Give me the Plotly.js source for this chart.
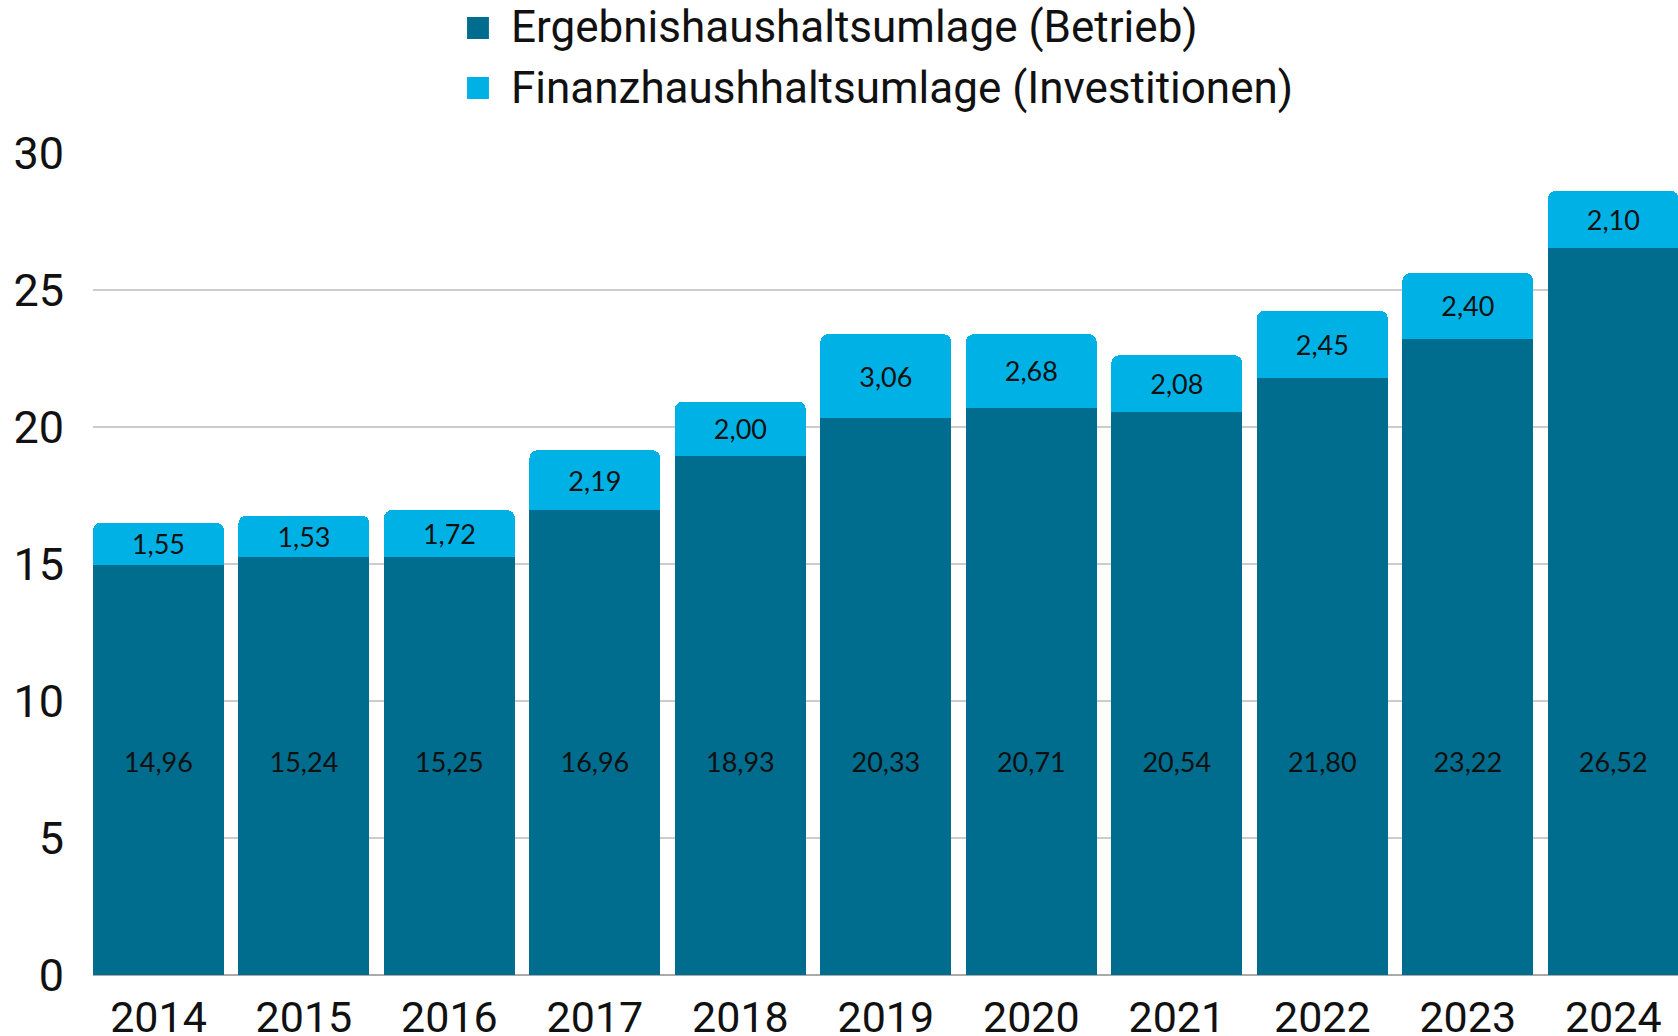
<!DOCTYPE html>
<html>
<head>
<meta charset="utf-8">
<script src="https://cdn.plot.ly/plotly-3.0.1.min.js"></script>
<style>html,body{margin:0;padding:0;background:#fff;}#chart{width:1678px;height:1036px;}</style>
</head>
<body>
<div id="chart"></div>
<script>
const years = ["2014","2015","2016","2017","2018","2019","2020","2021","2022","2023","2024"];
const betrieb = [14.96, 15.24, 15.25, 16.96, 18.93, 20.33, 20.71, 20.54, 21.80, 23.22, 26.52];
const investitionen = [1.55, 1.53, 1.72, 2.19, 2.00, 3.06, 2.68, 2.08, 2.45, 2.40, 2.10];
const seriesNames = ["Ergebnishaushaltsumlage (Betrieb)", "Finanzhaushhaltsumlage (Investitionen)"];
const yTicks = [0, 5, 10, 15, 20, 25, 30];

const darkColor = "#006c8e";
const lightColor = "#00b1e5";
const textColor = "#111111";
const betriebLabelY = 7.64;

const traces = [
  {
    type: "bar", x: years, y: betrieb, name: seriesNames[0],
    marker: {color: darkColor, line: {width: 0}},
    textposition: "none", hoverinfo: "skip", showlegend: false
  },
  {
    type: "bar", x: years, y: investitionen, name: seriesNames[1],
    marker: {color: lightColor, line: {width: 0}},
    texttemplate: "%{y:.2f}", textposition: "inside", insidetextanchor: "middle",
    textangle: 0, constraintext: "none",
    insidetextfont: {family: "Lato", size: 27, color: textColor},
    hoverinfo: "skip", showlegend: false
  },
  {
    type: "scatter", mode: "text", x: years, y: years.map(() => betriebLabelY),
    customdata: betrieb, texttemplate: "%{customdata:.2f}", textposition: "middle center",
    textfont: {family: "Lato", size: 27, color: textColor},
    hoverinfo: "skip", showlegend: false
  }
];

const legendX0 = 0.236, legendX1 = 0.2498, legendTextX = 0.2625;
const layout = {
  width: 1678, height: 1036,
  margin: {l: 93, r: 0, t: 153, b: 61},
  paper_bgcolor: "#ffffff", plot_bgcolor: "#ffffff",
  barmode: "stack", bargap: 0.1, barcornerradius: 8,
  separators: ",.",
  showlegend: false,
  font: {family: "Roboto", color: textColor},
  xaxis: {
    type: "category", range: [-0.45, 10.445],
    showgrid: false, zeroline: false, showline: false, ticks: "",
    tickfont: {family: "Roboto", size: 43, color: textColor},
    ticklabelstandoff: 13, fixedrange: true
  },
  yaxis: {
    range: [0, 30], tickvals: yTicks, ticktext: yTicks.map(String),
    showgrid: true, gridcolor: "#cccccc", gridwidth: 2,
    zeroline: true, zerolinecolor: "#aaaaaa", zerolinewidth: 2,
    showline: false, ticks: "",
    tickfont: {family: "Roboto", size: 45, color: textColor},
    ticklabelstandoff: 28, fixedrange: true
  },
  shapes: [
    {type: "rect", xref: "paper", yref: "paper", x0: legendX0, x1: legendX1, y0: 1.1387, y1: 1.1655, fillcolor: darkColor, line: {width: 0}},
    {type: "rect", xref: "paper", yref: "paper", x0: legendX0, x1: legendX1, y0: 1.0657, y1: 1.0925, fillcolor: lightColor, line: {width: 0}}
  ],
  annotations: [
    {xref: "paper", yref: "paper", x: legendTextX, y: 1.1533, xanchor: "left", yanchor: "middle", showarrow: false, text: seriesNames[0], font: {family: "Roboto", size: 44, color: textColor}},
    {xref: "paper", yref: "paper", x: legendTextX, y: 1.0791, xanchor: "left", yanchor: "middle", showarrow: false, text: seriesNames[1], font: {family: "Roboto", size: 44, color: textColor}}
  ]
};

Plotly.newPlot("chart", traces, layout, {displayModeBar: false, staticPlot: true});
</script>
</body>
</html>
